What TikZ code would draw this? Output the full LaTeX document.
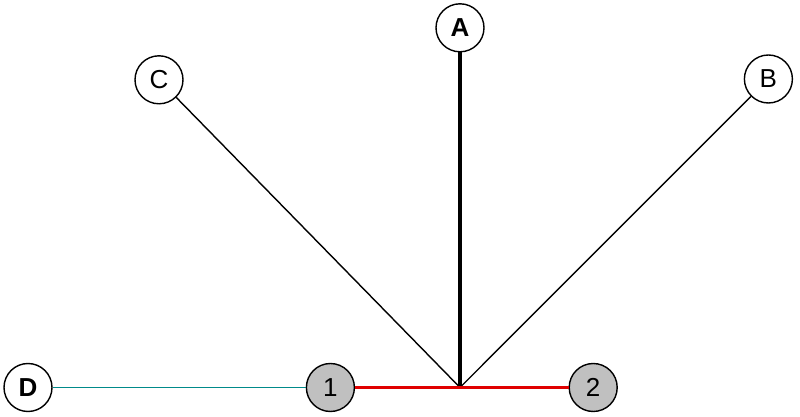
\documentclass[tikz,border=0pt]{standalone}
\usepackage{fontspec}
\setmainfont{Liberation Sans}
\usepackage{tikz}
\usetikzlibrary{calc, positioning}
\definecolor{edgeteal}{HTML}{008A8A}
\definecolor{edgered}{HTML}{E00000}
\definecolor{nodegray}{HTML}{C0C0C0}
\tikzset{
    vertex/.style={circle, draw, line width=1pt, fill=white, minimum size=1.2cm, inner sep=0pt, font=\fontsize{18.5}{22}\selectfont},
    leaf/.style={vertex, fill=nodegray},
}

\begin{document}
\begin{tikzpicture}
            \useasboundingbox (0,0) rectangle (20,10.425);
            % Outer vertices
            \node[vertex] (A) at (11.5, 9.73) {\textbf{A}};
            \node[vertex] (B) at (19.21, 8.45) {B};
            \node[vertex] (C) at (3.975, 8.43) {C};
            \node[vertex] (D) at (0.7, 0.7375) {\textbf{D}};
            % Bottom vertices
            \node[leaf] (one) at (8.26, 0.7375) {1};
            \node[leaf] (two) at (14.83, 0.7375) {2};
            \coordinate (mid) at (11.5, 0.7375);
            % Draw edges
            \draw[line width=2.3pt] (A) -- (mid);
            \draw[line width=1pt] (C) -- (mid);
            \draw[line width=1pt] (B) -- (mid);
            \draw[line width=2.1pt, edgered] (one) -- (mid) -- (two);
            \draw[line width=1.2pt, edgeteal] (D) -- (one);
\end{tikzpicture}
\end{document}
